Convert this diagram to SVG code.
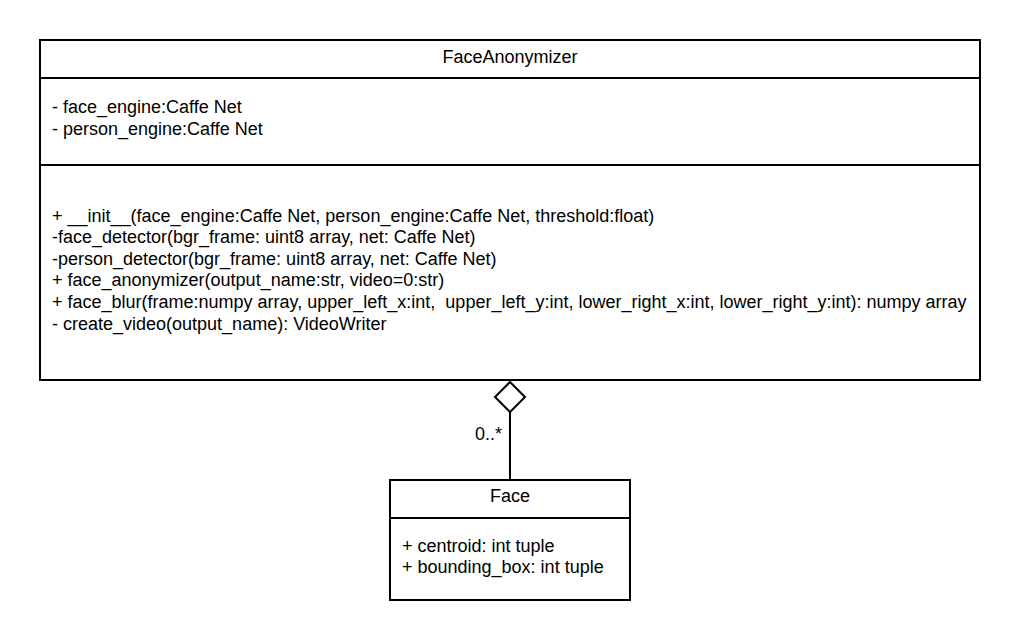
<svg xmlns="http://www.w3.org/2000/svg" width="1020" height="640" viewBox="0 0 1020 640">
<style>
.box{fill:#fff;stroke:#000;stroke-width:2}
.ln{stroke:#000;stroke-width:2;fill:none}
text{font-family:"Liberation Sans",Arial,sans-serif;font-size:18px;fill:#000}
.c{text-anchor:middle}
</style>
<rect width="1020" height="640" fill="#fff"/>
<g id="connectors">
<line class="ln" x1="510" y1="412" x2="510" y2="480"/>
<polygon class="box" points="510,382 525,397 510,412 495,397"/>
<text x="475" y="440">0..*</text>
</g>
<g id="FaceAnonymizer">
<rect class="box" x="40" y="40" width="940" height="340"/>
<line class="ln" x1="40" y1="78" x2="980" y2="78"/>
<line class="ln" x1="40" y1="165" x2="980" y2="165"/>
<text class="c" x="510" y="63">FaceAnonymizer</text>
<text x="52" y="113">- face_engine:Caffe Net</text>
<text x="52" y="135">- person_engine:Caffe Net</text>
<text x="52" y="222">+ __init__(face_engine:Caffe Net, person_engine:Caffe Net, threshold:float)</text>
<text x="52" y="243">-face_detector(bgr_frame: uint8 array, net: Caffe Net)</text>
<text x="52" y="265">-person_detector(bgr_frame: uint8 array, net: Caffe Net)</text>
<text x="52" y="286">+ face_anonymizer(output_name:str, video=0:str)</text>
<text x="52" y="308" xml:space="preserve">+ face_blur(frame:numpy array, upper_left_x:int,  upper_left_y:int, lower_right_x:int, lower_right_y:int): numpy array</text>
<text x="52" y="330">- create_video(output_name): VideoWriter</text>
</g>
<g id="Face">
<rect class="box" x="390" y="480" width="240" height="120"/>
<line class="ln" x1="390" y1="518" x2="630" y2="518"/>
<text class="c" x="510" y="502">Face</text>
<text x="402" y="552">+ centroid: int tuple</text>
<text x="402" y="573">+ bounding_box: int tuple</text>
</g>
</svg>
